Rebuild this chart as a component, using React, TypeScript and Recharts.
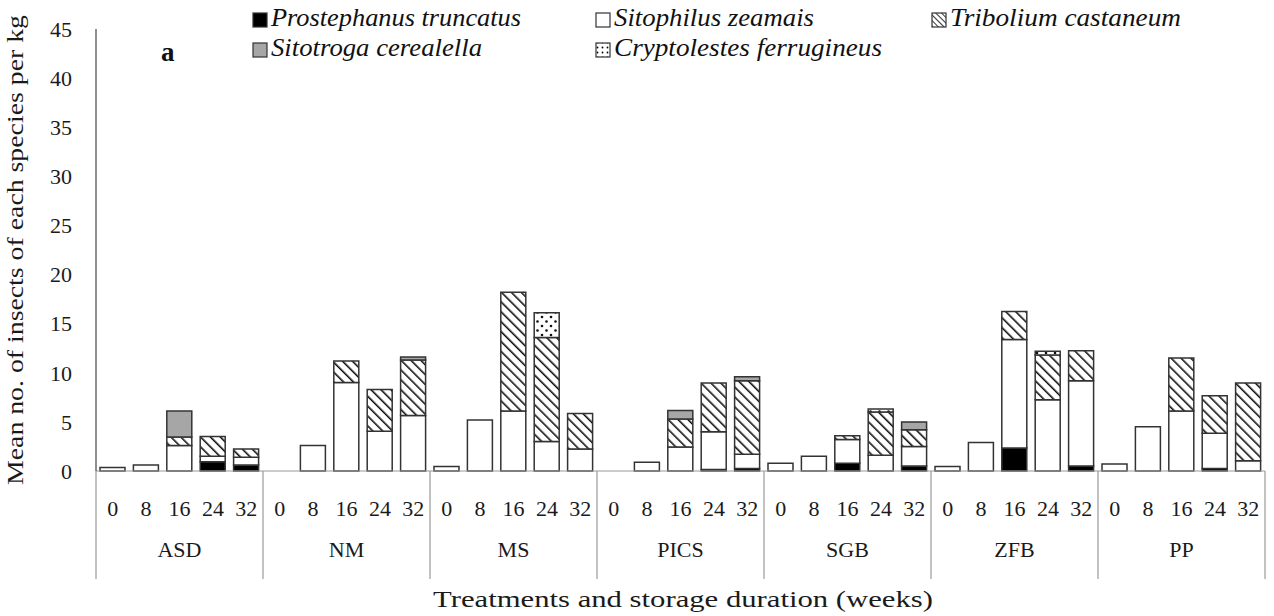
import React from 'react';
import { BarChart, Bar, XAxis, YAxis } from 'recharts';

const groups = ['ASD', 'NM', 'MS', 'PICS', 'SGB', 'ZFB', 'PP'];
const weeks = ['0', '8', '16', '24', '32'];
const yTicks = [0, 5, 10, 15, 20, 25, 30, 35, 40, 45];

// values per bar, groups in order above, weeks 0..32 inside each group
const prostephanus = [
  0, 0, 0, 0.95, 0.6,
  0, 0, 0, 0, 0,
  0, 0, 0, 0, 0,
  0, 0, 0, 0.15, 0.25,
  0, 0, 0.8, 0, 0.5,
  0, 0, 2.35, 0, 0.5,
  0, 0, 0, 0.25, 0,
];
const sitophilus = [
  0.35, 0.6, 2.6, 0.55, 0.8,
  0, 2.6, 9.0, 4.05, 5.65,
  0.45, 5.2, 6.1, 3.0, 2.25,
  0, 0.9, 2.45, 3.85, 1.45,
  0.8, 1.5, 2.4, 1.6, 2.0,
  0.45, 2.9, 11.05, 7.25, 8.7,
  0.7, 4.5, 6.1, 3.6, 1.05,
];
const tribolium = [
  0, 0, 0.85, 2.0, 0.85,
  0, 0, 2.2, 4.25, 5.65,
  0, 0, 12.1, 10.6, 3.6,
  0, 0, 2.85, 4.95, 7.5,
  0, 0, 0.4, 4.4, 1.7,
  0, 0, 2.85, 4.55, 3.05,
  0, 0, 5.4, 3.8, 7.9,
];
const sitotroga = [
  0, 0, 2.65, 0, 0,
  0, 0, 0, 0, 0.3,
  0, 0, 0, 0, 0,
  0, 0, 0.85, 0, 0.4,
  0, 0, 0, 0, 0.8,
  0, 0, 0, 0, 0,
  0, 0, 0, 0, 0,
];
const cryptolestes = [
  0, 0, 0, 0, 0,
  0, 0, 0, 0, 0,
  0, 0, 0, 2.5, 0,
  0, 0, 0, 0, 0,
  0, 0, 0, 0.3, 0,
  0, 0, 0, 0.4, 0,
  0, 0, 0, 0, 0,
];

const data = sitophilus.map((_, i) => ({
  id: i,
  week: weeks[i % 5],
  group: groups[Math.floor(i / 5)],
  P: prostephanus[i],
  W: sitophilus[i],
  T: tribolium[i],
  S: sitotroga[i],
  C: cryptolestes[i],
}));

const FONT = 'Liberation Serif, serif';
const CHART_W = 1274;
const LEFT = 96;
const RIGHT = 9;
const BAND = (CHART_W - LEFT - RIGHT) / data.length;
const STROKE = '#333';
const TEXT = '#1a1a1a';

const GroupTick = (props: any) => {
  const { x, y, payload } = props;
  const i = payload.index;
  const d = data[i];
  return (
    <g>
      <text x={x} y={y + 40} textAnchor="middle" dominantBaseline="middle" fontSize={22} fill={TEXT} fontFamily={FONT}>
        {d.week}
      </text>
      {i % 5 === 2 && (
        <text x={x} y={y + 81} textAnchor="middle" dominantBaseline="middle" fontSize={22} fill={TEXT} fontFamily={FONT}>
          {d.group}
        </text>
      )}
      {i % 5 === 0 && <line x1={x - BAND / 2} x2={x - BAND / 2} y1={y} y2={y + 108} stroke="#999" strokeWidth={1.2} />}
      {i === data.length - 1 && <line x1={x + BAND / 2} x2={x + BAND / 2} y1={y} y2={y + 108} stroke="#999" strokeWidth={1.2} />}
    </g>
  );
};

const legendItems = [
  { name: 'Prostephanus truncatus', fill: '#000', x: 253, y: 20, len: 250 },
  { name: 'Sitophilus zeamais', fill: '#fff', x: 596, y: 20, len: 200 },
  { name: 'Tribolium castaneum', fill: 'url(#lg-hatch)', x: 932, y: 20, len: 231 },
  { name: 'Sitotroga cerealella', fill: '#a6a6a6', x: 253, y: 50, len: 211 },
  { name: 'Cryptolestes ferrugineus', fill: 'url(#lg-dots)', x: 596, y: 50, len: 268 },
];

const LegendOverlay = () => (
  <svg width={CHART_W} height={70} style={{ position: 'absolute', left: 0, top: 0 }}>
    <defs>
      <pattern id="lg-hatch" width="4" height="4" patternUnits="userSpaceOnUse" patternTransform="rotate(-45)">
        <rect width="4" height="4" fill="#fff" />
        <line x1="0" y1="0" x2="0" y2="4" stroke="#000" strokeWidth="1.6" />
      </pattern>
      <pattern id="lg-dots" width="5" height="5" patternUnits="userSpaceOnUse">
        <rect width="5" height="5" fill="#fff" />
        <circle cx="2.5" cy="2.5" r="0.9" fill="#000" />
      </pattern>
    </defs>
    <text x={161} y={55} fontSize={27} fontWeight="bold" fill="#111" fontFamily={FONT} dominantBaseline="middle">
      a
    </text>
    {legendItems.map((it) => (
      <g key={it.name}>
        <rect x={it.x} y={it.y - 7} width={14} height={14} fill={it.fill} stroke={STROKE} strokeWidth={1.2} />
        <text
          x={it.x + 18}
          y={it.y}
          dominantBaseline="middle"
          fontSize={25}
          fontStyle="italic"
          fill="#111"
          fontFamily={FONT}
          textLength={it.len}
          lengthAdjust="spacingAndGlyphs"
        >
          {it.name}
        </text>
      </g>
    ))}
  </svg>
);

export default function App() {
  return (
    <div style={{ position: 'absolute', left: 0, top: 0, width: CHART_W, height: 616, background: '#fff', fontFamily: FONT }}>
      <BarChart
        width={CHART_W}
        height={616}
        data={data}
        margin={{ top: 29, right: RIGHT, left: 0, bottom: 0 }}
        barSize={25}
      >
        <defs>
          <pattern id="hatch" width="7" height="7" patternUnits="userSpaceOnUse" patternTransform="rotate(-45)">
            <rect width="7" height="7" fill="#fff" />
            <line x1="0" y1="0" x2="0" y2="7" stroke="#111" strokeWidth="3.2" />
          </pattern>
          <pattern id="dots" width="9" height="9" patternUnits="userSpaceOnUse">
            <rect width="9" height="9" fill="#fff" />
            <circle cx="2" cy="2" r="1.3" fill="#111" />
            <circle cx="6.5" cy="6.5" r="1.3" fill="#111" />
          </pattern>
        </defs>
        <XAxis
          dataKey="id"
          interval={0}
          height={145}
          tickLine={false}
          tickSize={0}
          tickMargin={0}
          axisLine={{ stroke: '#999', strokeWidth: 1.2 }}
          tick={<GroupTick />}
          label={{
            content: () => (
              <text
                x={683}
                y={601}
                textAnchor="middle"
                dominantBaseline="middle"
                fontSize={24}
                fill={TEXT}
                fontFamily={FONT}
                textLength={500}
                lengthAdjust="spacingAndGlyphs"
              >
                Treatments and storage duration (weeks)
              </text>
            ),
          }}
        />
        <YAxis
          width={LEFT}
          domain={[0, 45]}
          ticks={yTicks}
          interval={0}
          tickLine={false}
          tickSize={0}
          tickMargin={24}
          axisLine={{ stroke: '#444', strokeWidth: 1.2 }}
          tick={{ fontSize: 22, fill: TEXT, fontFamily: FONT }}
          label={{
            content: () => (
              <text
                x={18}
                y={250}
                transform="rotate(-90 18 250)"
                textAnchor="middle"
                dominantBaseline="middle"
                fontSize={23}
                fill={TEXT}
                fontFamily={FONT}
                textLength={470}
                lengthAdjust="spacingAndGlyphs"
              >
                Mean no. of insects of each species per kg
              </text>
            ),
          }}
        />
        <Bar dataKey="P" stackId="a" fill="#000" stroke={STROKE} strokeWidth={1.5} isAnimationActive={false} />
        <Bar dataKey="W" stackId="a" fill="#fff" stroke={STROKE} strokeWidth={1.5} isAnimationActive={false} />
        <Bar dataKey="T" stackId="a" fill="url(#hatch)" stroke={STROKE} strokeWidth={1.5} isAnimationActive={false} />
        <Bar dataKey="S" stackId="a" fill="#a6a6a6" stroke={STROKE} strokeWidth={1.5} isAnimationActive={false} />
        <Bar dataKey="C" stackId="a" fill="url(#dots)" stroke={STROKE} strokeWidth={1.5} isAnimationActive={false} />
      </BarChart>
      <LegendOverlay />
    </div>
  );
}
